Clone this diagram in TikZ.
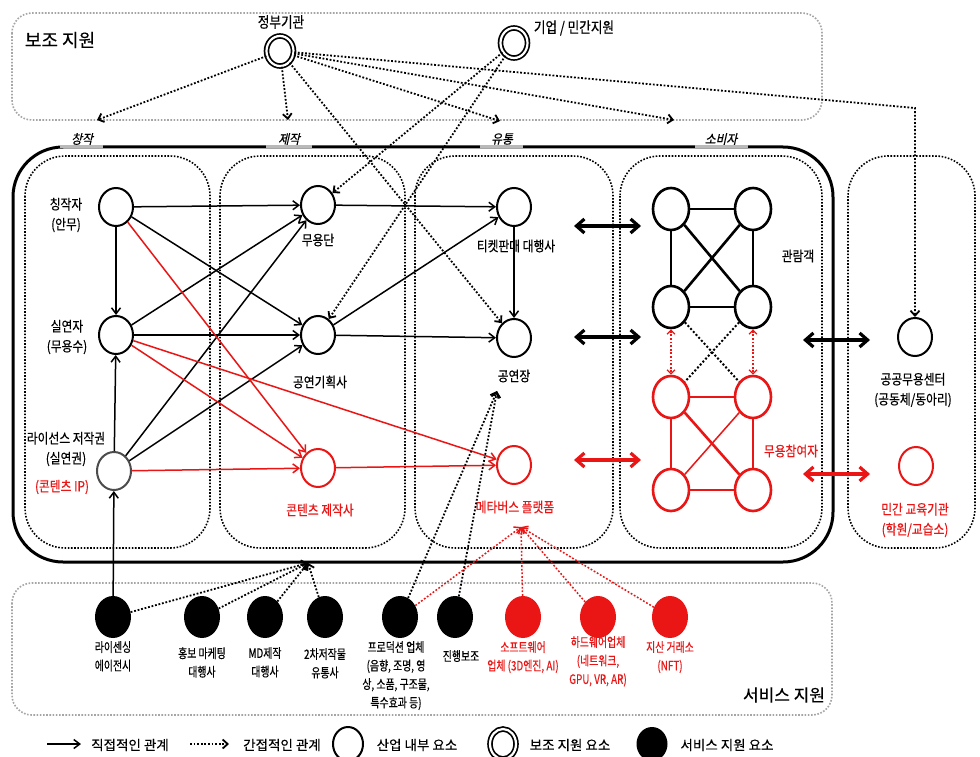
\documentclass[tikz,border=0pt]{standalone}
\usepackage{fontspec}
\setmainfont{Noto Sans CJK KR}[FakeStretch=0.84,FakeBold=0.4]
\newfontfamily\plainkr{Noto Sans CJK KR}[FakeBold=0.3]
\newfontfamily\tightkr{Noto Sans CJK KR}[FakeStretch=0.76,FakeBold=0.4]
\newfontfamily\slantkr{Noto Sans CJK KR}[FakeSlant=0.22,FakeStretch=0.9,FakeBold=0.5]
\usepackage{tikz}
\usetikzlibrary{arrows.meta,shapes.geometric}
\definecolor{hotred}{RGB}{234,22,22}
\definecolor{dotgray}{RGB}{165,165,165}
\tikzset{
  member/.style={ellipse,draw=black,line width=2pt,fill=white,minimum width=34pt,
                 minimum height=38pt,inner sep=0pt},
  redmember/.style={member,draw=hotred},
  crowd/.style={member,line width=2.6pt,minimum width=36pt,minimum height=42pt},
  redcrowd/.style={crowd,draw=hotred},
  support/.style={ellipse,draw=black,double,line width=1.7pt,double distance=2.2pt,
                  minimum width=27pt,minimum height=30pt,inner sep=0pt},
  service/.style={ellipse,fill=black,minimum width=36pt,minimum height=42pt,inner sep=0pt},
  redservice/.style={service,fill=hotred},
  lab/.style={font=\fontsize{14}{20}\selectfont,align=center,inner sep=1pt},
  redlab/.style={lab,text=hotred},
  svclab/.style={font=\tightkr\fontsize{13}{18.5}\selectfont,align=center,inner sep=0pt,anchor=north},
  redsvclab/.style={svclab,text=hotred},
  keylab/.style={font=\plainkr\fontsize{13.5}{15}\selectfont,inner sep=0pt},
  stagelab/.style={font=\slantkr\fontsize{13}{15}\selectfont,inner sep=0pt},
  flow/.style={-{Straight Barb[length=6pt,width=9pt]},line width=1.5pt},
  redflow/.style={flow,draw=hotred},
  hint/.style={-{Straight Barb[length=5pt,width=9pt]},line width=1.8pt,dash pattern=on 1.8pt off 1.8pt},
  redhint/.style={hint,draw=hotred,line width=1.5pt},
  tieline/.style={line width=2.6pt},
  redtieline/.style={tieline,draw=hotred},
  twoway/.style={{Straight Barb[length=8pt,width=14pt]}-{Straight Barb[length=8pt,width=14pt]},line width=3.2pt},
  redtwoway/.style={twoway,draw=hotred},
  zone/.style={line width=1.6pt,dash pattern=on 1.6pt off 1.6pt,rounded corners=40pt},
  band/.style={draw=dotgray,line width=1.6pt,dash pattern=on 1.6pt off 1.6pt,rounded corners=20pt},
}

\begin{document}
\begin{tikzpicture}[x=1pt,y=-1pt]
  \path[use as bounding box,fill=white] (0,0) rectangle (980,757);

  % support and service bands
  \draw[band] (12,13) rectangle (822,120);
  \draw[band] (12,583) rectangle (832,715);
  \node[font=\plainkr\fontsize{18}{20}\selectfont] (auxlab) at (60,40) {보조 지원};
  \node[font=\plainkr\fontsize{17}{19}\selectfont] (svcname) at (784,695) {서비스 지원};

  % industry frame and stages
  \draw[line width=3pt,rounded corners=50pt] (13,147) rectangle (833,562);
  \foreach \a/\b in {60/103,266/312,480/523,695/748}
    \draw[gray!55,line width=3pt] (\a,147) -- (\b,147);
  \node[stagelab] (st1) at (82,139) {창작};
  \node[stagelab] (st2) at (289,139) {제작};
  \node[stagelab] (st3) at (502,139) {유통};
  \node[stagelab] (st4) at (721,139) {소비자};
  \draw[zone] (25,156) rectangle (210,548);
  \draw[zone] (220,156) rectangle (405,548);
  \draw[zone] (415,156) rectangle (613,548);
  \draw[zone] (620,156) rectangle (822,548);
  \draw[zone] (848,156) rectangle (975,548);

  % support elements
  \node[support] (gov) at (280,51) {};
  \node[lab,font=\fontsize{15}{17}\selectfont] (govlab) at (281,22) {정부기관};
  \node[support] (biz) at (514,43) {};
  \node[lab,font=\fontsize{15}{17}\selectfont] (bizlab) at (574,28) {기업 / 민간지원};

  % creation / production / distribution
  \node[member] (choreo) at (116,207) {};
  \node[member] (dancer) at (116,335) {};
  \node[member,draw=black!70] (license) at (114,471) {};
  \node[member] (troupe) at (318,205) {};
  \node[member] (planner) at (318,335) {};
  \node[redmember] (maker) at (318,468) {};
  \node[member] (ticket) at (514,207) {};
  \node[member] (venue) at (514,338) {};
  \node[redmember] (meta) at (514,465) {};
  \node[lab] (choreolab) at (66,215) {칭작자\\(안무)};
  \node[lab] (dancerlab) at (67,337) {실연자\\(무용수)};
  \node[lab] (licenselab) at (66,449) {라이선스 저작권\\(실연권)};
  \node[redlab] (iplab) at (62,487) {(콘텐츠 IP)};
  \node[lab] (troupelab) at (318,240) {무용단};
  \node[lab] (plannerlab) at (320,382) {공연기획사};
  \node[redlab] (makerlab) at (320,510) {콘텐츠 제작사};
  \node[lab] (ticketlab) at (516,246) {티켓판매 대행사};
  \node[lab] (venuelab) at (514,376) {공연장};
  \node[redlab] (metalab) at (515,507) {메타버스 플랫폼};

  % consumers
  \node[crowd] (a1) at (671,209) {};
  \node[crowd] (a2) at (753,209) {};
  \node[crowd] (a3) at (671,307) {};
  \node[crowd] (a4) at (753,307) {};
  \node[redcrowd] (p1) at (671,397) {};
  \node[redcrowd] (p2) at (753,397) {};
  \node[redcrowd] (p3) at (671,490) {};
  \node[redcrowd] (p4) at (753,490) {};
  \node[lab] (audlab) at (798,256) {관람객};
  \node[redlab] (partlab) at (791,451) {무용참여자};
  \node[member] (public) at (915,337) {};
  \node[redmember] (academy) at (916,466) {};
  \node[lab] (publiclab) at (913,390) {공공무용센터\\(공동체/동아리)};
  \node[redlab] (academylab) at (915,520) {민간 교육기관\\(학원/교습소)};

  % service elements
  \node[service] (s1) at (113,617) {};
  \node[service] (s2) at (202,617) {};
  \node[service] (s3) at (265,617) {};
  \node[service] (s4) at (325,617) {};
  \node[service] (s5) at (400,617) {};
  \node[service] (s6) at (455,617) {};
  \node[redservice] (s7) at (523,617) {};
  \node[redservice] (s8) at (598,617) {};
  \node[redservice] (s9) at (670,617) {};
  \node[svclab] (s1lab) at (113,641) {라이센싱\\에이전시};
  \node[svclab] (s2lab) at (202,647) {홍보 마케팅\\대행사};
  \node[svclab] (s3lab) at (265,647) {MD제작\\대행사};
  \node[svclab] (s4lab) at (325,648) {2차저작물\\유통사};
  \node[svclab] (s5lab) at (396,641) {프로덕션 업체\\(음향, 조명, 영\\상, 소품, 구조물,\\특수효과 등)};
  \node[svclab] (s6lab) at (461,650) {진행보조};
  \node[redsvclab] (s7lab) at (523,641) {소프트웨어\\업체 (3D엔진, AI)};
  \node[redsvclab] (s8lab) at (598,636) {하드웨어업체\\(네트워크,\\GPU, VR, AR)};
  \node[redsvclab] (s9lab) at (670,641) {지산 거래소\\(NFT)};

  % free ends
  \coordinate (toCreate) at (97,120);
  \coordinate (toMake) at (288,120);
  \coordinate (toDist) at (500,121);
  \coordinate (toUse) at (674,120);
  \coordinate (bend) at (915,108);
  \coordinate (frameIn) at (308,563);
  \coordinate (venueIn) at (497,391);
  \coordinate (metaIn) at (521,527);

  % direct relations
  \draw[flow] (choreo) -- (troupe);
  \draw[flow] (choreo) -- (dancer);
  \draw[flow] (choreo) -- (planner);
  \draw[flow] (dancer) -- (troupe);
  \draw[flow] (dancer) -- (planner);
  \draw[flow] (license) -- (dancer);
  \draw[flow] (license) -- (troupe);
  \draw[flow] (license) -- (planner);
  \draw[flow] (troupe) -- (ticket);
  \draw[flow] (planner) -- (ticket);
  \draw[flow] (planner) -- (venue);
  \draw[flow] (ticket) -- (venue);
  \draw[flow] (s1) -- (license);
  \draw[redflow] (choreo) -- (maker);
  \draw[redflow] (dancer) -- (maker);
  \draw[redflow] (dancer) -- (meta);
  \draw[redflow] (license) -- (maker);
  \draw[redflow] (maker) -- (meta);

  % indirect relations
  \draw[hint] (gov) -- (toCreate);
  \draw[hint] (gov) -- (toMake);
  \draw[hint] (gov) -- (toDist);
  \draw[hint] (gov) -- (toUse);
  \draw[hint] (gov) -- (bend) -- (public);
  \draw[hint] (gov) -- (venue);
  \draw[hint] (biz) -- (troupe);
  \draw[hint] (biz) -- (planner);
  \foreach \s in {s1,s2,s3,s4}
    \draw[hint] (\s) -- (frameIn);
  \draw[hint] (s5) -- (venueIn);
  \draw[hint] (s6) -- (venueIn);
  \foreach \s in {s5,s7,s8,s9}
    \draw[redhint] (\s) -- (metaIn);

  % audience and participants
  \draw[tieline] (a1) -- (a2);
  \draw[tieline] (a1) -- (a3);
  \draw[tieline] (a2) -- (a4);
  \draw[tieline] (a3) -- (a4);
  \draw[tieline] (a1) -- (a4);
  \draw[tieline] (a2) -- (a3);
  \draw[redtieline] (p1) -- (p2);
  \draw[redtieline] (p1) -- (p3);
  \draw[redtieline] (p2) -- (p4);
  \draw[redtieline] (p3) -- (p4);
  \draw[redtieline] (p1) -- (p4);
  \draw[redtieline,line width=1.5pt] (p2) -- (p3);
  \draw[redhint,<->,>={Straight Barb[length=4pt,width=8pt]},line width=1.3pt] (a3) -- (p1);
  \draw[redhint,<->,>={Straight Barb[length=4pt,width=8pt]},line width=1.3pt] (a4) -- (p2);
  \draw[line width=2pt,dash pattern=on 2pt off 2pt] (a3) -- (p2);
  \draw[line width=2pt,dash pattern=on 2pt off 2pt] (a4) -- (p1);

  % exchanges between stages
  \coordinate (e1) at (574,226); \coordinate (e2) at (641,226);
  \coordinate (e3) at (574,337); \coordinate (e4) at (641,337);
  \coordinate (e5) at (574,460); \coordinate (e6) at (641,460);
  \coordinate (e7) at (803,340); \coordinate (e8) at (870,340);
  \coordinate (e9) at (803,474); \coordinate (e10) at (870,474);
  \draw[twoway] (e1) -- (e2);
  \draw[twoway] (e3) -- (e4);
  \draw[redtwoway] (e5) -- (e6);
  \draw[twoway] (e7) -- (e8);
  \draw[redtwoway] (e9) -- (e10);

  % legend
  \coordinate (k1) at (47,744); \coordinate (k2) at (81,744);
  \coordinate (k3) at (190,744); \coordinate (k4) at (229,744);
  \draw[flow] (k1) -- (k2);
  \draw[hint] (k3) -- (k4);
  \node[keylab] (k1lab) at (130,745) {직접적인 관계};
  \node[keylab] (k2lab) at (282,745) {간접적인 관계};
  \node[member,minimum width=30pt,minimum height=34pt] (k3sym) at (348,744) {};
  \node[keylab] (k3lab) at (417,745) {산업 내부 요소};
  \node[support,minimum width=26pt,minimum height=30pt] (k4sym) at (503,744) {};
  \node[keylab] (k4lab) at (570,745) {보조 지원 요소};
  \node[service,minimum width=31pt,minimum height=34pt] (k5sym) at (652,744) {};
  \node[keylab] (k5lab) at (727,745) {서비스 지원 요소};
\end{tikzpicture}
\end{document}
